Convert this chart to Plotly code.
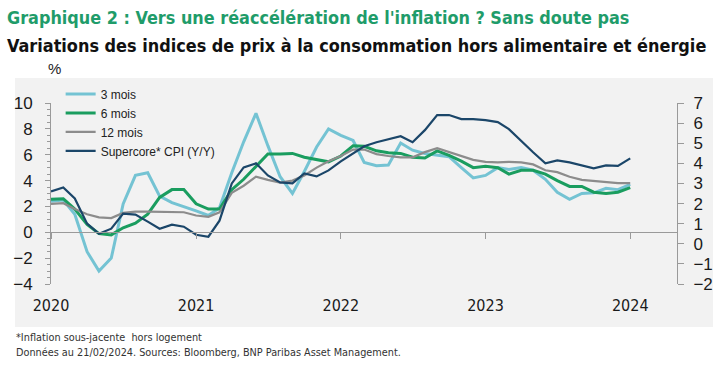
import pandas as pd
import plotly.graph_objects as go

months = pd.date_range("2020-01-01", periods=49, freq="MS")

m3 = [2.4, 2.5, 1.4, -1.5, -3.0, -2.0, 2.2, 4.4, 4.6, 2.8,
      2.3, 2.0, 1.65, 1.3, 1.9, 4.6, 7.0, 9.2, 6.7, 4.3,
      3.0, 4.7, 6.6, 8.0, 7.5, 7.1, 5.4, 5.15, 5.2, 6.9,
      6.35, 6.1, 5.95, 5.85, 5.0, 4.2, 4.4, 5.0, 4.85, 5.0,
      4.8, 4.1, 3.1, 2.55, 3.0, 3.05, 3.4, 3.3, 3.7]
m6 = [2.55, 2.6, 1.8, 0.6, -0.1, -0.2, 0.35, 0.7, 1.4, 2.7,
      3.3, 3.3, 2.2, 1.8, 1.8, 3.3, 4.1, 5.1, 6.05, 6.05,
      6.1, 5.8, 5.65, 5.45, 5.9, 6.7, 6.65, 6.3, 6.15, 6.1,
      5.8, 5.75, 6.3, 5.95, 5.5, 5.0, 5.1, 5.0, 4.5, 4.8,
      4.8, 4.5, 4.0, 3.55, 3.55, 3.1, 3.0, 3.1, 3.45]
m12 = [2.2, 2.25, 1.8, 1.4, 1.15, 1.1, 1.5, 1.6, 1.6, 1.6,
       1.55, 1.55, 1.3, 1.2, 1.55, 3.05, 3.6, 4.3, 4.05, 3.85,
       4.0, 4.4, 5.0, 5.5, 5.9, 6.4, 6.4, 6.05, 5.9, 5.8,
       5.8, 6.2, 6.5, 6.2, 5.9, 5.6, 5.45, 5.4, 5.45, 5.4,
       5.25, 4.8, 4.65, 4.3, 4.05, 3.95, 3.9, 3.8, 3.8]
supercore = [2.6, 2.8, 2.25, 1.0, 0.5, 0.75, 1.5, 1.45, 1.1, 0.75,
             0.95, 0.85, 0.45, 0.35, 1.15, 3.0, 3.8, 4.0, 3.4, 3.05,
             3.0, 3.5, 3.35, 3.65, 4.1, 4.5, 4.85, 5.05, 5.2, 5.35,
             5.05, 5.65, 6.4, 6.4, 6.2, 6.2, 6.15, 6.05, 5.7, 5.1,
             4.55, 4.0, 4.15, 4.05, 3.9, 3.75, 3.9, 3.87, 4.25]

names = ["3 mois", "6 mois", "12 mois", "Supercore* CPI (Y/Y)"]
year_ticks = ["2020-01-01", "2021-01-01", "2022-01-01", "2023-01-01", "2024-01-01"]
year_labels = ["2020", "2021", "2022", "2023", "2024"]
left_ticks = [-4, -2, 0, 2, 4, 6, 8, 10]
right_ticks = [-2, -1, 0, 1, 2, 3, 4, 5, 6, 7]

C_LIGHT = "#74c3d3"
C_GREEN = "#1a9d5f"
C_GRAY = "#8c8c8c"
C_NAVY = "#1b4669"
AX = "#9a9a9a"
COND = "Liberation Sans Narrow, DejaVu Sans Condensed, Roboto Condensed, Roboto, sans-serif"
NUM = "Arial, Liberation Sans, sans-serif"

fig = go.Figure()
fig.add_trace(go.Scatter(x=months, y=m3, name=names[0], mode="lines",
                         line=dict(color=C_LIGHT, width=3)))
fig.add_trace(go.Scatter(x=months, y=m6, name=names[1], mode="lines",
                         line=dict(color=C_GREEN, width=3)))
fig.add_trace(go.Scatter(x=months, y=m12, name=names[2], mode="lines",
                         line=dict(color=C_GRAY, width=2.2)))
fig.add_trace(go.Scatter(x=months, y=supercore, name=names[3], mode="lines",
                         line=dict(color=C_NAVY, width=2.2), xaxis="x2", yaxis="y2"))

xr = ["2020-01-01", "2024-04-28"]
pos0 = 4 / 14

fig.update_layout(
    width=725, height=368,
    margin=dict(l=51, r=48, t=103, b=84),
    paper_bgcolor="white",
    plot_bgcolor="rgba(0,0,0,0)",
    showlegend=True,
    legend=dict(x=0.0154, y=1.13, xanchor="left", yanchor="top",
                bgcolor="rgba(0,0,0,0)", font=dict(family=NUM, size=12, color="#222"),
                tracegroupgap=0, itemwidth=30),
    xaxis=dict(range=xr, tickvals=year_ticks, ticktext=year_labels,
               showgrid=False, zeroline=False, showline=False, ticks="",
               ticklabelstandoff=10,
               tickfont=dict(family=COND, size=16, color="#1a1a1a")),
    xaxis2=dict(range=xr, overlaying="x", matches="x", anchor="free", position=pos0,
                tickvals=year_ticks, showticklabels=False, showgrid=False, zeroline=False,
                showline=True, linecolor=AX, linewidth=1,
                ticks="outside", ticklen=6, tickcolor=AX),
    yaxis=dict(range=[-4, 10], tickvals=left_ticks, showgrid=False, zeroline=False,
               showline=True, linecolor=AX, linewidth=1,
               ticks="outside", ticklen=5, tickcolor=AX, ticklabelstandoff=9,
               minor=dict(dtick=0.5, tick0=0, ticks="outside", ticklen=3, tickcolor=AX),
               tickfont=dict(family=NUM, size=17, color="#1a1a1a")),
    yaxis2=dict(range=[-2, 7], tickvals=right_ticks, overlaying="y", side="right",
                anchor="x2", showgrid=False, zeroline=False,
                showline=True, linecolor=AX, linewidth=1,
                ticks="outside", ticklen=6, tickcolor=AX, ticklabelstandoff=6,
                tickfont=dict(family=NUM, size=17, color="#1a1a1a")),
    shapes=[dict(type="rect", xref="paper", yref="paper",
                 x0=-0.0575, x1=1.0575, y0=-0.2376, y1=1.138,
                 fillcolor="#f2f2f2", line=dict(width=0), layer="below")],
    annotations=[
        dict(text="<b>Graphique 2 : Vers une réaccélération de l'inflation ? Sans doute pas</b>",
             xref="paper", yref="paper", x=-0.0735, y=1.47, xanchor="left", yanchor="middle",
             showarrow=False, font=dict(family=COND, size=17.85, color="#1f9c6a")),
        dict(text="<b>Variations des indices de prix à la consommation hors alimentaire et énergie</b>",
             xref="paper", yref="paper", x=-0.0735, y=1.32, xanchor="left", yanchor="middle",
             showarrow=False, font=dict(family=COND, size=17.9, color="#111")),
        dict(text="%", xref="paper", yref="paper", x=0.006, y=1.19, xanchor="center",
             yanchor="middle", showarrow=False,
             font=dict(family=NUM, size=15, color="#222")),
        dict(text="*Inflation sous-jacente  hors logement",
             xref="paper", yref="paper", x=-0.059, y=-0.298, xanchor="left", yanchor="middle",
             showarrow=False, font=dict(family=COND, size=10.8, color="#333")),
        dict(text="Données au 21/02/2024. Sources: Bloomberg, BNP Paribas Asset Management.",
             xref="paper", yref="paper", x=-0.059, y=-0.376, xanchor="left", yanchor="middle",
             showarrow=False, font=dict(family=COND, size=10.8, color="#333")),
    ],
)

fig.write_html("out.html", config={"displayModeBar": False},
               post_script="document.body.style.margin='0px';")
